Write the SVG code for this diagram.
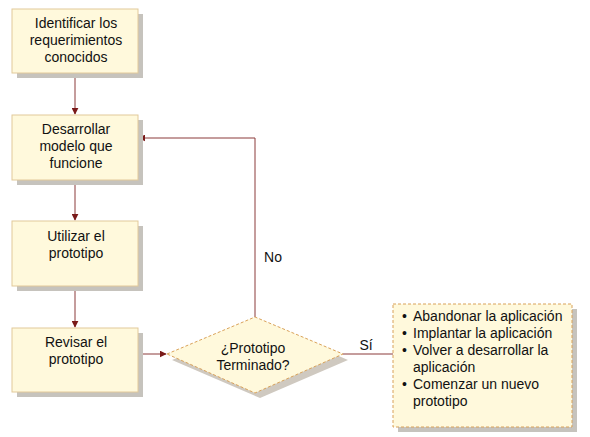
<svg xmlns="http://www.w3.org/2000/svg" width="590" height="437" viewBox="0 0 590 437">
<style>
text{font-family:"Liberation Sans",Arial,sans-serif;font-size:14px;fill:#111111}
.c{text-anchor:middle}
.box{fill:#fff9dc;stroke:#e2c99a;stroke-width:1}
.sh{fill:#c6c3bd}
.dash{fill:#fff9dc;stroke:#d9a25a;stroke-width:1;stroke-dasharray:3 2}
.ln{stroke:#8b3a3a;stroke-width:1;fill:none}
</style>
<defs>
<marker id="ar" viewBox="0 0 10 10" refX="9" refY="5" markerWidth="7" markerHeight="7" orient="auto" markerUnits="userSpaceOnUse">
<path d="M0,0 L10,5 L0,10 z" fill="#7a1a1a"/>
</marker>
</defs>
<rect width="590" height="437" fill="#ffffff"/>
<g id="connectors">
<line class="ln" x1="75" y1="73" x2="75" y2="114" marker-end="url(#ar)"/>
<line class="ln" x1="75" y1="180" x2="75" y2="220" marker-end="url(#ar)"/>
<line class="ln" x1="75" y1="286" x2="75" y2="327" marker-end="url(#ar)"/>
<line class="ln" x1="138" y1="354" x2="166" y2="354" marker-end="url(#ar)"/>
<polyline class="ln" points="255,317 255,138 139,138" marker-end="url(#ar)"/>
<line class="ln" x1="343" y1="354" x2="393" y2="354"/>
<text x="273" y="262" class="c">No</text>
<text x="366" y="350" class="c">Sí</text>
</g>
<g id="n1">
<rect class="sh" x="17" y="14" width="126" height="64"/>
<rect class="box" x="12" y="9" width="126" height="64"/>
<text class="c" x="76" y="28">Identificar  los</text>
<text class="c" x="76" y="45">requerimientos</text>
<text class="c" x="76" y="62">conocidos</text>
</g>
<g id="n2">
<rect class="sh" x="17" y="120" width="126" height="65"/>
<rect class="box" x="12" y="115" width="126" height="65"/>
<text class="c" x="76" y="134">Desarrollar</text>
<text class="c" x="76" y="151">modelo que</text>
<text class="c" x="76" y="168">funcione</text>
</g>
<g id="n3">
<rect class="sh" x="17" y="226" width="126" height="65"/>
<rect class="box" x="12" y="221" width="126" height="65"/>
<text class="c" x="76" y="241">Utilizar el</text>
<text class="c" x="76" y="258">prototipo</text>
</g>
<g id="n4">
<rect class="sh" x="17" y="333" width="126" height="64"/>
<rect class="box" x="12" y="328" width="126" height="64"/>
<text class="c" x="76" y="347">Revisar el</text>
<text class="c" x="76" y="364">prototipo</text>
</g>
<g id="decision">
<polygon points="172,360 260,322 348,360 260,398" fill="#cfc9c0"/>
<polygon class="dash" points="167,354 255,317 343,354 255,393"/>
<text class="c" x="253" y="353">¿Prototipo</text>
<text class="c" x="253" y="370">Terminado?</text>
</g>
<g id="outcomes">
<rect class="sh" x="398" y="309" width="179" height="123"/>
<rect class="dash" x="393" y="304" width="179" height="123"/>
<text x="402" y="321">•</text><text x="413" y="321">Abandonar la aplicación</text>
<text x="402" y="338">•</text><text x="413" y="338">Implantar la aplicación</text>
<text x="402" y="355">•</text><text x="413" y="355">Volver a desarrollar  la</text>
<text x="413" y="372">aplicación</text>
<text x="402" y="389">•</text><text x="413" y="389">Comenzar un nuevo</text>
<text x="413" y="406">prototipo</text>
</g>
</svg>
